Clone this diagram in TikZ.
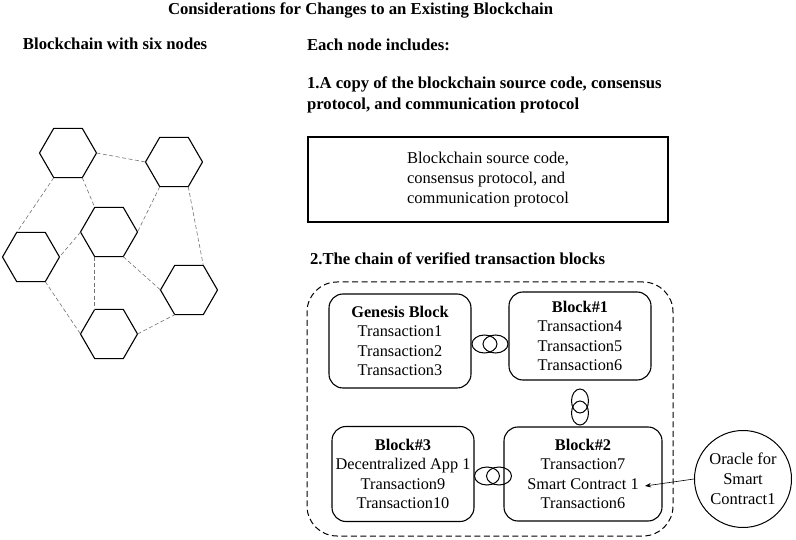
\documentclass[tikz,border=0pt]{standalone}
\usepackage{fontspec}
\setmainfont{Liberation Serif}
\usetikzlibrary{shapes.geometric,arrows.meta}
\begin{document}
\begin{tikzpicture}[x=1pt,y=-1pt,
  hexa/.style={draw, regular polygon, regular polygon sides=6, minimum size=57pt, inner sep=0pt, outer sep=0pt, line width=1.1pt},
  peer/.style={draw=black!55, line width=0.6pt, dash pattern=on 4pt off 2.5pt},
  head/.style={font=\fontsize{16.7}{21}\selectfont\bfseries, inner sep=0pt, outer sep=0pt},
  block/.style={draw, rounded corners=14pt, line width=1.1pt, align=center, font=\fontsize{16.3}{19.6}\selectfont, inner sep=0pt},
  ring/.style={line width=1pt},
  body/.style={font=\fontsize{16.5}{20}\selectfont}
]
\useasboundingbox (0,0) rectangle (796,540);

% headings
\node[head, anchor=base west] (title) at (168,14.5) {Considerations for Changes to an Existing Blockchain};
\node[head, anchor=base west] (lefthead) at (23,50) {Blockchain with six nodes};
\node[head, anchor=base west] (righthead) at (307,50.5) {Each node includes:};
\node[head, anchor=north west, align=left] (item1) at (307,77) {1.A copy of the blockchain source code, consensus\\protocol, and communication protocol};
\node[head, anchor=base west] (item2) at (310,264.5) {2.The chain of verified transaction blocks};

% hexagon network
\node[hexa] (h1) at (68,153) {};
\node[hexa] (h2) at (174,162) {};
\node[hexa] (h3) at (109,232) {};
\node[hexa] (h4) at (31,257) {};
\node[hexa] (h5) at (189,290) {};
\node[hexa] (h6) at (109,334) {};
\draw[peer] (h1.0) -- (h2.180);
\draw[peer] (h1.240) -- (h4.120);
\draw[peer] (h1.300) -- (h3.120);
\draw[peer] (h2.240) -- (h3.0);
\draw[peer] (h2.300) -- (h5.60);
\draw[peer] (h3.180) -- (h4.0);
\draw[peer] (h3.240) -- (h6.120);
\draw[peer] (h3.300) -- (h5.180);
\draw[peer] (h4.300) -- (h6.180);
\draw[peer] (h6.0) -- (h5.240);

% source code box
\node[draw, line width=1.1pt, minimum width=360pt, minimum height=85pt, align=left, body, inner sep=0pt] (src) at (488,179.5)
  {Blockchain source code,\\consensus protocol, and\\communication protocol};

% chain container
\node[draw, line width=1pt, dash pattern=on 6pt off 3.5pt, rounded corners=30pt, minimum width=366pt, minimum height=254pt, inner sep=0pt] (chain) at (490,409) {};

% blocks
\node[block, minimum width=142pt, minimum height=94pt] (gen) at (400,341) {{\bfseries Genesis Block}\\Transaction1\\Transaction2\\Transaction3};
\node[block, minimum width=142pt, minimum height=88pt] (b1) at (580,336) {{\bfseries Block\#1}\\Transaction4\\Transaction5\\Transaction6};
\node[block, minimum width=142pt, minimum height=95pt] (b3) at (403,474) {{\bfseries Block\#3}\\Decentralized App 1\\Transaction9\\Transaction10};
\node[block, minimum width=158pt, minimum height=94pt] (b2) at (583,474) {{\bfseries Block\#2}\\Transaction7\\Smart Contract 1\\Transaction6};

% chain links
\draw[ring] (484.5,344) ellipse [x radius=12.5pt, y radius=9pt];
\draw[ring] (495.5,344) ellipse [x radius=12.5pt, y radius=9pt];
\draw[ring] (580,401) ellipse [x radius=8.5pt, y radius=12pt];
\draw[ring] (580,413) ellipse [x radius=8.5pt, y radius=12pt];
\draw[ring] (487,476) ellipse [x radius=12.5pt, y radius=9pt];
\draw[ring] (499,476) ellipse [x radius=12.5pt, y radius=9pt];

% oracle
\node[draw, circle, line width=1pt, minimum size=97pt, inner sep=0pt, align=center, body] (oracle) at (743,479) {Oracle for\\Smart\\Contract1};
\coordinate (sctip) at (645,486);
\draw[line width=0.6pt, -{Stealth[length=6pt,width=4.5pt]}] (oracle.west) -- (sctip);
\end{tikzpicture}
\end{document}
